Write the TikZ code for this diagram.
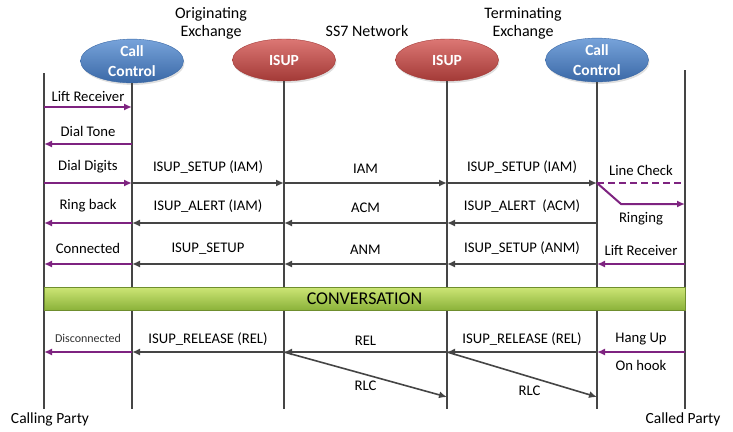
\documentclass[tikz,border=0pt]{standalone}
\usepackage{fontspec}
\setmainfont{Carlito}
\usetikzlibrary{positioning,calc,shapes.geometric,shadows,arrows.meta}

\definecolor{ccblue}{HTML}{4F81BD}
\definecolor{ccbluetop}{HTML}{77A3DA}
\definecolor{ccbluebot}{HTML}{3A68A6}
\definecolor{isupred}{HTML}{C0504D}
\definecolor{isupredtop}{HTML}{DC7774}
\definecolor{isupredbot}{HTML}{A33A37}
\definecolor{sigpurple}{HTML}{7E2380}
\definecolor{msggray}{HTML}{454545}
\definecolor{convtop}{HTML}{CDE676}
\definecolor{convbot}{HTML}{8BB23A}

\begin{document}
\begin{tikzpicture}[x=1pt,y=-1pt]
\tikzstyle{ccnode}=[ellipse, minimum width=103pt, minimum height=42pt, inner sep=0pt, draw=ccbluebot, top color=ccbluetop, bottom color=ccbluebot, text=white, align=center, font=\fontsize{15.5}{20}\selectfont\bfseries, drop shadow={opacity=0.25, shadow xshift=1pt, shadow yshift=-2pt}]
\tikzstyle{isupnode}=[ccnode, draw=isupredbot, top color=isupredtop, bottom color=isupredbot]
\tikzstyle{life}=[draw=msggray, line width=1.6pt]
\tikzstyle{gmsg}=[-{Latex[length=8pt,width=7pt]}, draw=msggray, line width=1.6pt]
\tikzstyle{pmsg}=[-{Latex[length=8pt,width=7pt]}, draw=sigpurple, line width=2pt]
\tikzstyle{pdash}=[draw=sigpurple, line width=2pt, dash pattern=on 7pt off 4pt]
\tikzstyle{lbl}=[inner sep=1pt, font=\fontsize{14.7}{18}\selectfont, text=black]
\tikzstyle{head}=[lbl, font=\fontsize{16}{18}\selectfont, align=center]
\tikzstyle{small}=[inner sep=1pt, font=\fontsize{12}{14}\selectfont, text=black!80]
\tikzstyle{convbar}=[rectangle, draw=convbot!80!black, top color=convtop, bottom color=convbot, font=\fontsize{18}{20}\selectfont, minimum width=641pt, minimum height=23pt, inner sep=0pt]

\useasboundingbox (0,0) rectangle (733,431);

% lifeline points, one per message row
\foreach \l/\x in {cp/44,oc/132,oi/284,ti/447,tc/597,dp/685}
  \foreach \r/\y in {1/107,2/144,3/183,4/223,5/264,6/352,7/397}
    \coordinate (\l-\r) at (\x,\y);

\coordinate (cp-top) at (44,73);
\coordinate (dp-top) at (685,70);
\foreach \l/\x in {cp/44,oc/132,oi/284,ti/447,tc/597,dp/685}
  \coordinate (\l-bot) at (\x,409);

\node[ccnode] (cc_o) at (132,61) {Call\\Control};
\node[isupnode] (isup_o) at (284,60) {ISUP};
\node[isupnode] (isup_t) at (447,60) {ISUP};
\node[ccnode] (cc_t) at (597,60) {Call\\Control};

\node[head] (orig) at (211,23) {Originating\\Exchange};
\node[head] (ss7) at (367,31) {SS7 Network};
\node[head] (term) at (523,23) {Terminating\\Exchange};

\node[lbl, font=\fontsize{15.5}{18}\selectfont] (calling) [below=3pt of cp-bot, xshift=6pt] {Calling Party};
\node[lbl, font=\fontsize{15.5}{18}\selectfont] (called) [below=3pt of dp-bot, xshift=-2pt] {Called Party};

\path
(cp-top) edge[life] (cp-bot)
(cc_o.south) edge[life] (oc-bot)
(isup_o.south) edge[life] (oi-bot)
(isup_t.south) edge[life] (ti-bot)
(cc_t.south) edge[life] (tc-bot)
(dp-top) edge[life] (dp-bot);

\path
(cp-1) edge[pmsg] node[lbl, above=3pt] {Lift Receiver} (oc-1)
(oc-2) edge[pmsg] node[lbl, above=5pt] {Dial Tone} (cp-2)

(cp-3) edge[pmsg] node[lbl, above=8pt] {Dial Digits} (oc-3)
(oc-3) edge[gmsg] node[lbl, above=8pt] {ISUP\_SETUP (IAM)} (oi-3)
(oi-3) edge[gmsg] node[lbl, above=8pt] {IAM} (ti-3)
(ti-3) edge[gmsg] node[lbl, above=8pt] {ISUP\_SETUP (IAM)} (tc-3)
(tc-3) edge[pdash] node[lbl, above=5pt] {Line Check} (dp-3)

(oc-4) edge[pmsg] node[lbl, above=9pt] {Ring back} (cp-4)
(oi-4) edge[gmsg] node[lbl, above=9pt] {ISUP\_ALERT (IAM)} (oc-4)
(ti-4) edge[gmsg] node[lbl, above=9pt] {ACM} (oi-4)
(tc-4) edge[gmsg] node[lbl, above=9pt] {ISUP\_ALERT\ \ (ACM)} (ti-4)

(oc-5) edge[pmsg] node[lbl, above=8pt] {Connected} (cp-5)
(oi-5) edge[gmsg] node[lbl, above=8pt] {ISUP\_SETUP} (oc-5)
(ti-5) edge[gmsg] node[lbl, above=8pt] {ANM} (oi-5)
(tc-5) edge[gmsg] node[lbl, above=8pt] {ISUP\_SETUP (ANM)} (ti-5)
(dp-5) edge[pmsg] node[lbl, above=6pt] {Lift Receiver} (tc-5);

% ringing goes off the line check
\coordinate (ring_bend) at (621,204);
\coordinate (ring_end) at (685,204);
\draw[pmsg] (tc-3) -- (ring_bend) -- (ring_end);
\node[lbl] (ringing) at (641,219) {Ringing};

\node[convbar] (conv) at (364.5,298.5) {CONVERSATION};

\path
(oc-6) edge[pmsg] node[small, above=7pt] {Disconnected} (cp-6)
(oi-6) edge[gmsg] node[lbl, above=5pt] {ISUP\_RELEASE (REL)} (oc-6)
(ti-6) edge[gmsg] node[lbl, above=5pt] {REL} (oi-6)
(tc-6) edge[gmsg] node[lbl, above=5pt] {ISUP\_RELEASE (REL)} (ti-6)
(dp-6) edge[pmsg] node[lbl, above=5pt] {Hang Up} (tc-6)
(dp-6) edge[draw=none] node[lbl, below=7pt] {On hook} (tc-6)

(oi-6) edge[gmsg] node[lbl, below=5pt] {RLC} (ti-7)
(ti-6) edge[gmsg] node[lbl, below=7pt, pos=0.55] {RLC} (tc-7);
\end{tikzpicture}
\end{document}
